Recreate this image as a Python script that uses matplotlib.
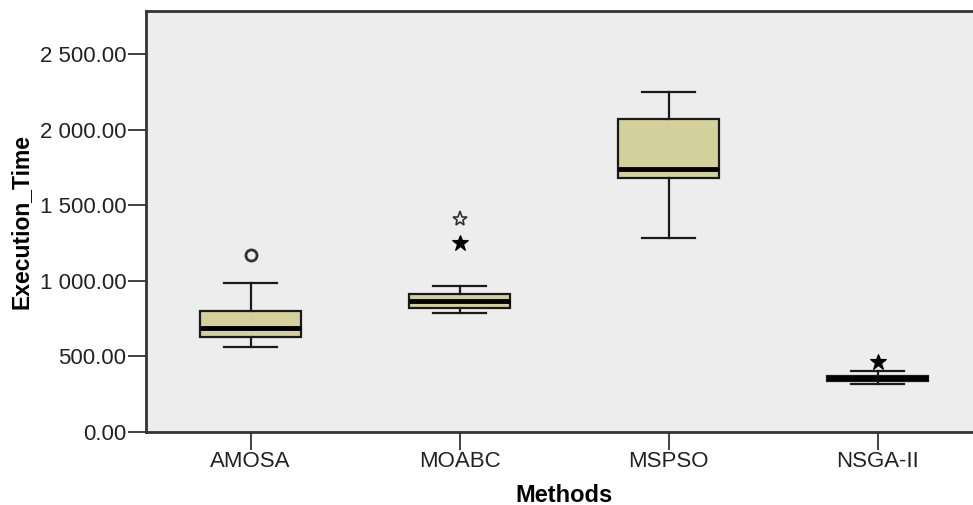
import matplotlib
matplotlib.use("Agg")
import matplotlib.pyplot as plt
from matplotlib.ticker import FuncFormatter

plt.rcParams['font.family'] = ['Liberation Sans', 'DejaVu Sans']

methods = ["AMOSA", "MOABC", "MSPSO", "NSGA-II"]
q1 = [630, 818, 1682, 340]
median = [688, 866, 1737, 355]
q3 = [800, 912, 2070, 372]
whisker_low = [564, 785, 1281, 315]
whisker_high = [983, 966, 2247, 403]

# outliers: (method index, value, marker kind)
outlier_idx = [0, 1, 1, 3]
outlier_val = [1171, 1407, 1248, 465]
outlier_kind = ["o", "*", "*f", "*f"]

yticks = [0, 500, 1000, 1500, 2000, 2500]

fig = plt.figure(figsize=(9.73, 5.05), dpi=100)
ax = fig.add_axes([146/973, 73/505, (982-146)/973, (432-11)/505])
ax.set_facecolor("#EDEDED")

stats = []
for i, m in enumerate(methods):
    stats.append(dict(label=m, q1=q1[i], med=median[i], q3=q3[i],
                      whislo=whisker_low[i], whishi=whisker_high[i], fliers=[]))

ax.bxp(stats, positions=range(len(methods)), widths=0.48, patch_artist=True,
       showfliers=False,
       boxprops=dict(facecolor="#D4D09C", edgecolor="#1a1a1a", linewidth=1.6),
       medianprops=dict(color="black", linewidth=3.5),
       whiskerprops=dict(color="#1a1a1a", linewidth=1.6),
       capprops=dict(color="#1a1a1a", linewidth=1.6),
       capwidths=0.25)

for i, v, k in zip(outlier_idx, outlier_val, outlier_kind):
    if k == "o":
        ax.plot(i, v, marker="o", markersize=8, markerfacecolor="none",
                markeredgecolor="#333333", markeredgewidth=2)
    elif k == "*":
        ax.plot(i, v, marker="*", markersize=11, markerfacecolor="#EDEDED",
                markeredgecolor="#333333", markeredgewidth=1.2)
    else:
        ax.plot(i, v, marker="*", markersize=12, markerfacecolor="black",
                markeredgecolor="black", markeredgewidth=0.8)

ax.set_xlim(-0.5, 3.5)
ax.set_ylim(0, 2784)
ax.set_yticks(yticks)
ax.yaxis.set_major_formatter(FuncFormatter(lambda v, p: f"{v:,.2f}".replace(",", " ")))
ax.set_xticks(range(len(methods)))
ax.set_xticklabels(methods)

for s in ["left", "bottom", "top"]:
    ax.spines[s].set_linewidth(2)
    ax.spines[s].set_color("#333333")
ax.spines["right"].set_visible(False)

ax.tick_params(axis="both", direction="out", length=13, width=1.3, color="#333333",
               labelsize=16, labelcolor="#222222", pad=1)
ax.set_xlabel("Methods", fontsize=17, fontweight="bold", labelpad=8)
ax.set_ylabel("Execution_Time", fontsize=16.5, fontweight="bold")
ax.yaxis.set_label_coords(-0.136, 0.5)

fig.savefig("out.png", dpi=100)
